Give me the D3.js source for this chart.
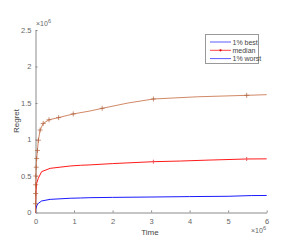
<!DOCTYPE html>
<html><head><meta charset="utf-8">
<script src="https://cdn.jsdelivr.net/npm/d3@7"></script>
<style>body{margin:0;background:#fff}svg{display:block;font-family:"Liberation Sans",Arial,sans-serif}</style>
</head><body><svg id="c" width="291" height="241"></svg>
<script>
// values in units of 1e6
const xTicks = [0,1,2,3,4,5,6];
const yTicks = [0,0.5,1,1.5,2,2.5];
const yTickLabels = ["0","0.5","1","1.5","2","2.5"];
const worstT = [0,0.001,0.003,0.006,0.01,0.018,0.03,0.05,0.075,0.12,0.2,0.35,0.6,0.98,1.41,1.73,2.4,3.06,4.2,5.48,6];
const worstV = [0,0.12,0.26,0.38,0.5,0.62,0.74,0.85,0.99,1.13,1.22,1.27,1.30,1.35,1.39,1.427,1.50,1.555,1.585,1.605,1.614];
const worstMarkerT = [0.001,0.003,0.006,0.01,0.018,0.03,0.05,0.075,0.12,0.2,0.35,0.6,0.98,1.73,3.06,5.48];
const medianT = [0,0.002,0.006,0.013,0.03,0.073,0.16,0.38,0.9,1.17,1.41,2.0,3.06,3.76,4.5,5.48,6];
const medianV = [0,0.1,0.18,0.31,0.4,0.47,0.56,0.605,0.637,0.647,0.652,0.67,0.696,0.705,0.718,0.733,0.735];
const medianMarkerT = [3.06,5.48];
const bestT = [0,0.003,0.013,0.04,0.073,0.16,0.38,0.9,1.17,1.41,2.0,3.0,4.0,5.0,5.6,6];
const bestV = [0,0.03,0.06,0.1,0.126,0.158,0.18,0.195,0.199,0.203,0.207,0.212,0.218,0.222,0.232,0.233];
const legendLabels = ["1% best","median","1% worst"];
const legendColors = ["#4a4aff","#ff3030","#4a4aff"];

const svg = d3.select("#c");
const x = d3.scaleLinear().domain([0,6]).range([35.5,266.7]);
const y = d3.scaleLinear().domain([0,2.5]).range([212.5,30]);
const axCol = "#8a8a8a", txtCol = "#666";

// axes
const xa = svg.append("g").attr("transform","translate(0,212.5)")
  .call(d3.axisBottom(x).tickValues(xTicks).tickFormat(d3.format("d")).tickSizeInner(-2).tickSizeOuter(0).tickPadding(6));
const ya = svg.append("g").attr("transform","translate(35.5,0)")
  .call(d3.axisLeft(y).tickValues(yTicks).tickFormat((d,i)=>yTickLabels[i]).tickSizeInner(-2).tickSizeOuter(0).tickPadding(4));
[xa,ya].forEach(g=>{
  g.select(".domain").attr("stroke",axCol);
  g.selectAll(".tick line").attr("stroke",axCol);
  g.selectAll("text").attr("fill",txtCol).attr("font-size",7.5).attr("font-family","Liberation Sans, Arial, sans-serif");
});

const line = d3.line().x(d=>x(d[0])).y(d=>y(d[1]));
function series(T,V,color,w){
  svg.append("path").datum(T.map((t,i)=>[t,V[i]])).attr("d",line)
    .attr("fill","none").attr("stroke",color).attr("stroke-width",w);
}
function valAt(T,V,t){ const i = T.indexOf(t); return V[i]; }

series(bestT,bestV,"#0000ff",0.9);
series(medianT,medianV,"#ff0000",0.9);
series(worstT,worstV,"#cc7a55",0.9);

// worst markers (+)
worstMarkerT.forEach(t=>{
  const cx = x(t), cy = y(valAt(worstT,worstV,t));
  svg.append("path").attr("d",`M${cx-2.5},${cy}H${cx+2.5}M${cx},${cy-2.5}V${cy+2.5}`)
    .attr("stroke","#b0603a").attr("stroke-width",0.7).attr("fill","none");
});
medianMarkerT.forEach(t=>{
  const cx = x(t), cy = y(valAt(medianT,medianV,t));
  svg.append("path").attr("d",`M${cx},${cy-2}V${cy+2}`).attr("stroke","#e04040").attr("stroke-width",0.8);
});

// exponent labels
function expo(xp,yp){
  const t = svg.append("text").attr("x",xp).attr("y",yp).attr("font-size",7).attr("fill",txtCol);
  t.append("tspan").text("×10");
  t.append("tspan").attr("dy",-3).attr("font-size",5.5).text("6");
}
expo(36,26);
expo(251,233);

// axis titles
svg.append("text").attr("x",150).attr("y",235).attr("text-anchor","middle").attr("font-size",8).attr("fill","#444").text("Time");
svg.append("text").attr("transform","translate(19,121) rotate(-90)").attr("text-anchor","middle").attr("font-size",8).attr("fill","#444").text("Regret");

// legend
const lg = svg.append("g");
lg.append("rect").attr("x",205.5).attr("y",34.5).attr("width",53).attr("height",29).attr("fill","#fff").attr("stroke","#999").attr("stroke-width",1);
legendLabels.forEach((lab,i)=>{
  const ly = 42 + i*8.3;
  lg.append("line").attr("x1",210).attr("x2",231).attr("y1",ly).attr("y2",ly).attr("stroke",legendColors[i]).attr("stroke-width",0.9);
  if(i===1) lg.append("circle").attr("cx",220.5).attr("cy",ly).attr("r",1.1).attr("fill","#d00");
  lg.append("text").attr("x",232.5).attr("y",ly+2.5).attr("font-size",7).attr("fill","#444").text(lab);
});
</script></body></html>
